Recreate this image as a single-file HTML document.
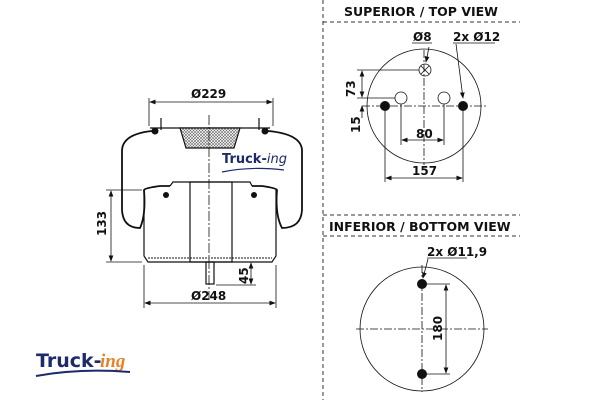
<!DOCTYPE html>
<html><head><meta charset="utf-8"><style>
body{margin:0;background:#fff;width:600px;height:400px;overflow:hidden}
svg text{font-family:"DejaVu Sans","Liberation Sans",sans-serif;font-weight:bold;fill:#111}
</style></head><body>
<svg width="600" height="400" viewBox="0 0 600 400" xmlns="http://www.w3.org/2000/svg">
<defs>
<marker id="a" markerWidth="8" markerHeight="6" refX="7" refY="3" orient="auto-start-reverse"><path d="M0,0 L8,3 L0,6z" fill="#111"/></marker>
<pattern id="h" width="3" height="3" patternUnits="userSpaceOnUse"><rect width="3" height="3" fill="#fff"/><path d="M0,0L3,3M3,0L0,3" stroke="#666" stroke-width="0.6"/></pattern>
</defs>
<g stroke="#333" stroke-width="1" stroke-dasharray="4,3" fill="none">
<line x1="323" y1="0" x2="323" y2="400"/>
<line x1="323" y1="22" x2="520" y2="22"/>
<line x1="323" y1="215" x2="520" y2="215"/>
<line x1="323" y1="236" x2="520" y2="236"/>
</g>
<text x="344" y="16" font-size="12.5">SUPERIOR / TOP VIEW</text>
<text x="329" y="231" font-size="12.5">INFERIOR / BOTTOM VIEW</text>

<g fill="none" stroke="#111" stroke-width="1.8">
<path d="M152,131 Q123,134 122,150 L122,210 Q123,228 140,228 Q146,215 144,190 Q145,188 160,186 L170,186"/>
<path d="M268,131 Q301,134 302,150 L302,210 Q301,228 282,228 Q275,215 277,190 Q276,188 262,186 L252,186"/>
</g>
<g fill="none" stroke="#111" stroke-width="1.2">
<path d="M150,128 L270,128"/>
<path d="M180,128 L186,148 L234,148 L240,128z" fill="url(#h)"/>
<path d="M144,190 L144,256 L148,262 L272,262 L276,256 L276,190"/>
<path d="M148,258 L272,258" stroke-dasharray="2,1" stroke-width="1"/>
<path d="M170,186 L173,182 L250,182 L252,186"/>
<rect x="190" y="182" width="42" height="80"/>
<rect x="206" y="262" width="8" height="22"/>
<line x1="161" y1="118" x2="161" y2="130"/><line x1="259" y1="118" x2="259" y2="130"/>
<line x1="209" y1="115" x2="209" y2="300" stroke-dasharray="10,2,2,2" stroke-width="0.8"/>
</g>
<circle cx="155" cy="131" r="3.5" fill="#111"/><circle cx="265" cy="131" r="3.5" fill="#111"/>
<circle cx="166" cy="195" r="3" fill="#111"/><circle cx="254" cy="195" r="3" fill="#111"/>
<g stroke="#111" stroke-width="0.8" fill="none">
<line x1="149" y1="98" x2="149" y2="126"/><line x1="273" y1="98" x2="273" y2="126"/>
<line x1="150" y1="102" x2="272" y2="102" marker-start="url(#a)" marker-end="url(#a)"/>
<line x1="144" y1="265" x2="144" y2="308"/><line x1="276" y1="265" x2="276" y2="308"/>
<line x1="145" y1="303" x2="275" y2="303" marker-start="url(#a)" marker-end="url(#a)"/>
<line x1="106" y1="190" x2="142" y2="190"/><line x1="106" y1="262" x2="142" y2="262"/>
<line x1="111" y1="191" x2="111" y2="261" marker-start="url(#a)" marker-end="url(#a)"/>
<line x1="216" y1="285" x2="256" y2="285"/>
<line x1="251" y1="263" x2="251" y2="284" marker-start="url(#a)" marker-end="url(#a)"/>
</g>
<text x="191" y="98" font-size="12">Ø229</text>
<text x="191" y="300" font-size="12">Ø248</text>
<text transform="translate(106,236) rotate(-90)" font-size="12">133</text>
<text transform="translate(248,284) rotate(-90)" font-size="12">45</text>
<text x="222" y="163" font-size="13" style="fill:#1d2a6b">Truck-<tspan font-style="italic" font-weight="normal" style="fill:#1d2a6b">ing</tspan></text>
<path d="M222,172 Q250,166 284,170" stroke="#1d2a6b" stroke-width="1.2" fill="none"/>
<text x="36" y="367" font-size="19" style="fill:#1d2a6b">Truck-</text>
<text x="100" y="367" font-size="19" font-style="italic" font-weight="normal" style="fill:#e8822a;font-family:'Liberation Serif',serif">ing</text>
<path d="M36,376 Q80,368 130,372" stroke="#1d2a6b" stroke-width="2" fill="none"/>

<g stroke="#111" stroke-width="0.8" fill="none">
<circle cx="424" cy="106" r="57"/>
<line x1="362" y1="106" x2="486" y2="106" stroke-dasharray="8,2,2,2"/>
<line x1="424" y1="50" x2="424" y2="165" stroke-dasharray="8,2,2,2"/>
<circle cx="401" cy="98" r="6"/><circle cx="444" cy="98" r="6"/>
<circle cx="425" cy="70" r="6"/>
<path d="M421,66 L429,74 M429,66 L421,74"/>
<line x1="357" y1="70" x2="419" y2="70"/><line x1="357" y1="98" x2="395" y2="98"/>
<line x1="362" y1="71" x2="362" y2="97" marker-start="url(#a)" marker-end="url(#a)"/>
<line x1="362" y1="106" x2="362" y2="118" marker-start="url(#a)"/>
<line x1="401" y1="104" x2="401" y2="145"/><line x1="444" y1="104" x2="444" y2="145"/>
<line x1="402" y1="140" x2="443" y2="140" marker-start="url(#a)" marker-end="url(#a)"/>
<line x1="385" y1="110" x2="385" y2="182"/><line x1="463" y1="110" x2="463" y2="182"/>
<line x1="386" y1="178" x2="462" y2="178" marker-start="url(#a)" marker-end="url(#a)"/>
<line x1="412" y1="43" x2="432" y2="43"/><line x1="429" y1="47" x2="426" y2="62" marker-end="url(#a)"/>
<line x1="453" y1="43" x2="495" y2="43"/><line x1="456" y1="44" x2="463" y2="98" marker-end="url(#a)"/>
</g>
<circle cx="385" cy="106" r="5" fill="#111"/><circle cx="463" cy="106" r="5" fill="#111"/>
<text x="413" y="41" font-size="12">Ø8</text>
<text x="453" y="41" font-size="12">2x Ø12</text>
<text x="416" y="138" font-size="12">80</text>
<text x="412" y="175" font-size="12">157</text>
<text transform="translate(355,97) rotate(-90)" font-size="12">73</text>
<text transform="translate(360,133) rotate(-90)" font-size="12">15</text>

<g stroke="#111" stroke-width="0.8" fill="none">
<circle cx="422" cy="329" r="62"/>
<line x1="356" y1="329" x2="488" y2="329" stroke-dasharray="8,2,2,2"/>
<line x1="422" y1="265" x2="422" y2="392" stroke-dasharray="8,2,2,2"/>
<line x1="424" y1="284" x2="450" y2="284"/><line x1="424" y1="374" x2="450" y2="374"/>
<line x1="446" y1="285" x2="446" y2="373" marker-start="url(#a)" marker-end="url(#a)"/>
<line x1="427" y1="258" x2="467" y2="258"/><line x1="428" y1="259" x2="423" y2="278" marker-end="url(#a)"/>
</g>
<circle cx="422" cy="284" r="5" fill="#111"/><circle cx="422" cy="374" r="5" fill="#111"/>
<text x="427" y="256" font-size="12">2x Ø11,9</text>
<text transform="translate(442,341) rotate(-90)" font-size="12">180</text>
</svg>
</body></html>
